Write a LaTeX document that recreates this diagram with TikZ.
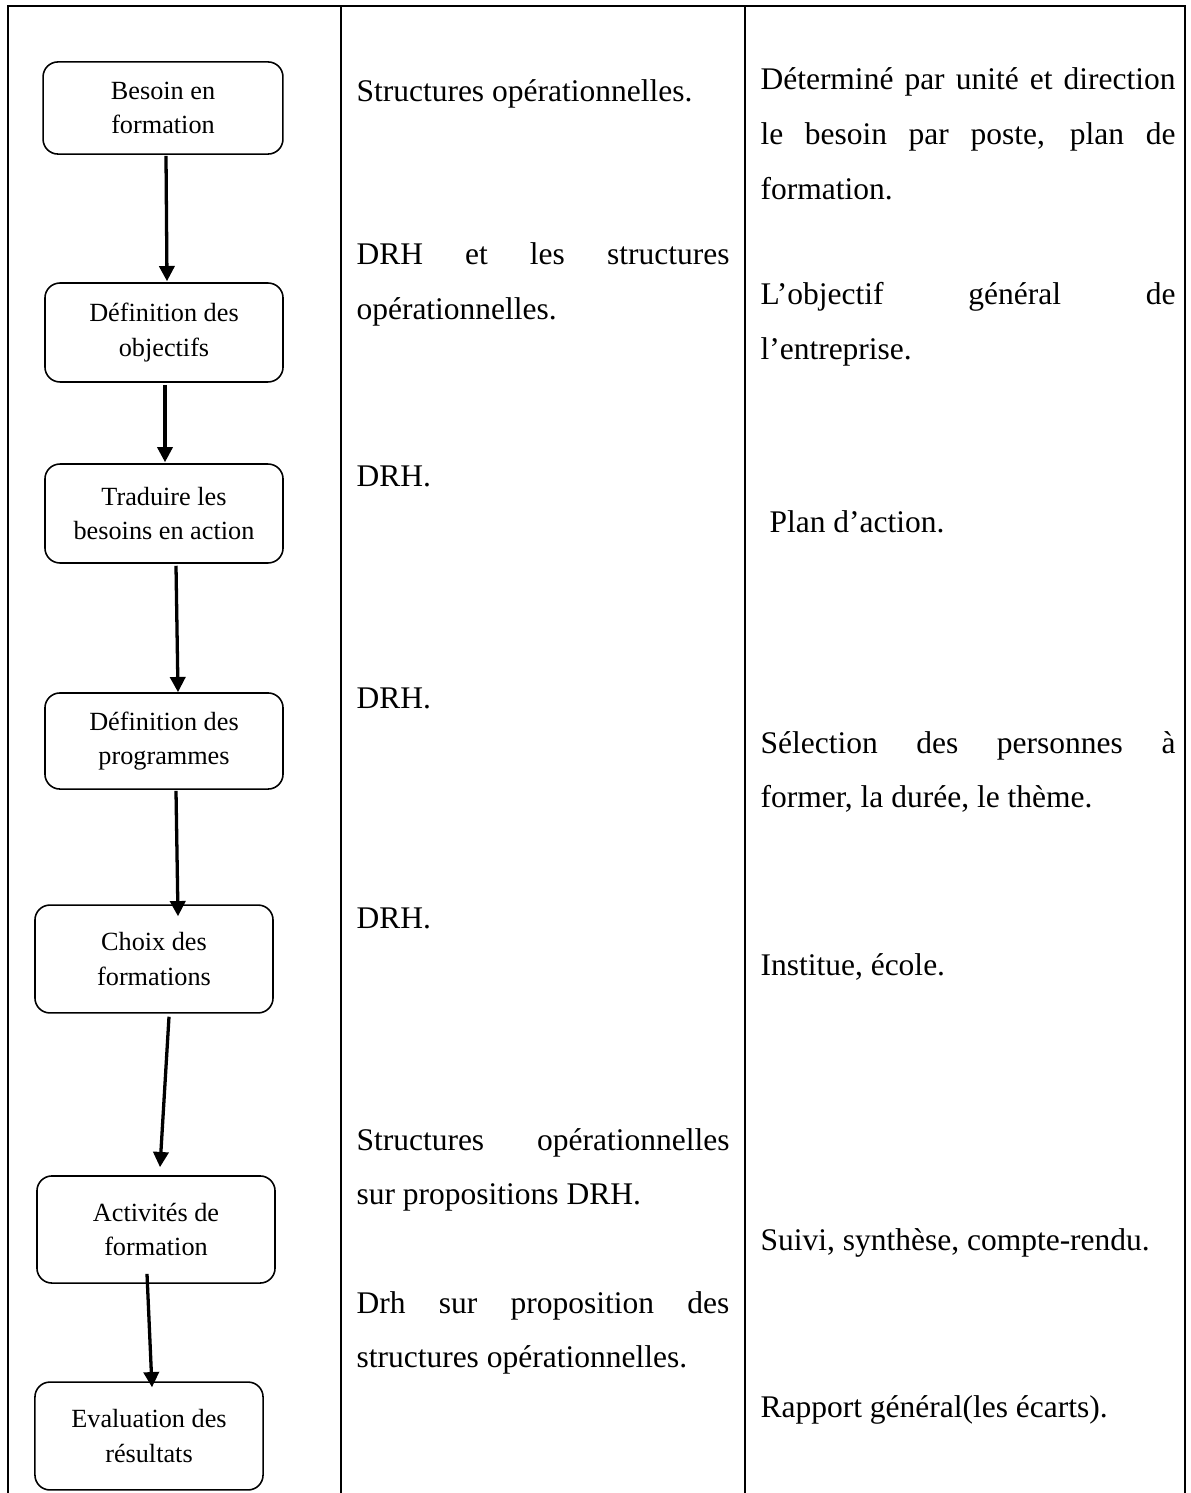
\documentclass[tikz,border=0pt]{standalone}
\usepackage{fontspec}
\setmainfont{Liberation Serif}
\usetikzlibrary{arrows.meta,calc}
\tolerance=10000
\hyphenpenalty=10000

\begin{document}
\begin{tikzpicture}[x=0.381pt,y=-0.381pt,
        etape/.style={draw,rounded corners=5.7pt,line width=0.6pt,align=center,font=\fontsize{10}{13}\selectfont,minimum width=90.7pt,inner sep=2pt},
        txt/.style={anchor=base west,inner sep=0pt,align=justify,font=\fontsize{12}{20.9}\selectfont},
        qui/.style={txt,text width=142.1pt},
        quoi/.style={txt,text width=158.1pt},
        fleche/.style={-{Triangle[width=5.8pt,length=5.8pt]},line width=1.25pt},
        trait/.style={line width=0.8pt}]
        \useasboundingbox (0,0) rectangle (1190,1493);
        \draw[trait] (8,1493) -- (8,6) -- (1185,6) -- (1185,1493);
        \draw[trait] (341,6) -- (341,1493);
        \draw[trait] (745,6) -- (745,1493);

        \node[etape,minimum width=91.4pt,minimum height=35.1pt] (besoin) at (163,108) {Besoin en\\formation};
        \node[etape,minimum height=37.7pt] (objectifs) at (164,332.5) {Définition des\\objectifs};
        \node[etape,minimum height=37.7pt] (traduire) at (164,513.5) {Traduire les\\besoins en action};
        \node[etape,minimum height=36.6pt] (programmes) at (164,741) {Définition des\\programmes};
        \node[etape,minimum height=41.1pt] (choix) at (154,959) {Choix des\\formations};
        \node[etape,minimum height=40.8pt] (activites) at (156,1229.5) {Activités de\\formation};
        \node[etape,minimum width=86.9pt,minimum height=41.1pt] (evaluation) at (149,1436) {Evaluation des\\résultats};

        \draw[fleche] ($(besoin.south)+(3,1)$) -- ($(objectifs.north)+(3,-1)$);
        \draw[fleche] ($(objectifs.south)+(1,2)$) -- ($(traduire.north)+(1,-1)$);
        \draw[fleche] ($(traduire.south)+(12,2)$) -- ($(programmes.north)+(14,0)$);
        \draw[fleche] ($(programmes.south)+(12,1)$) -- ($(choix.north)+(24,12)$);
        \draw[fleche] ($(choix.south)+(15,3)$) -- ($(activites.north)+(4,-8)$);
        \draw[fleche] ($(activites.south)+(-9,-10)$) -- ($(evaluation.north)+(3,6)$);

        \node[qui] (qui1) at (356,102) {Structures opérationnelles.};
        \node[qui] (qui2) at (356,265) {DRH et les structures\linebreak opérationnelles.};
        \node[qui] (qui3) at (356,486) {DRH.};
        \node[qui] (qui4) at (356,708) {DRH.};
        \node[qui] (qui5) at (356,928) {DRH.};
        \node[qui] (qui6) at (356,1150) {Structures opérationnelles\linebreak sur propositions DRH.};
        \node[qui] (qui7) at (356,1313) {Drh sur proposition des\linebreak structures opérationnelles.};

        \node[quoi] (quoi1) at (760,90) {Déterminé par unité et direction\linebreak le besoin par poste, plan de\linebreak formation.};
        \node[quoi] (quoi2) at (760,305) {L’objectif général de\linebreak l’entreprise.};
        \node[quoi] (quoi3) at (769,532) {Plan d’action.};
        \node[quoi] (quoi4) at (760,753) {Sélection des personnes à\linebreak former, la durée, le thème.};
        \node[quoi] (quoi5) at (760,975) {Institue, école.};
        \node[quoi] (quoi6) at (760,1250) {Suivi, synthèse, compte-rendu.};
        \node[quoi] (quoi7) at (760,1417) {Rapport général(les écarts).};
\end{tikzpicture}
\end{document}
